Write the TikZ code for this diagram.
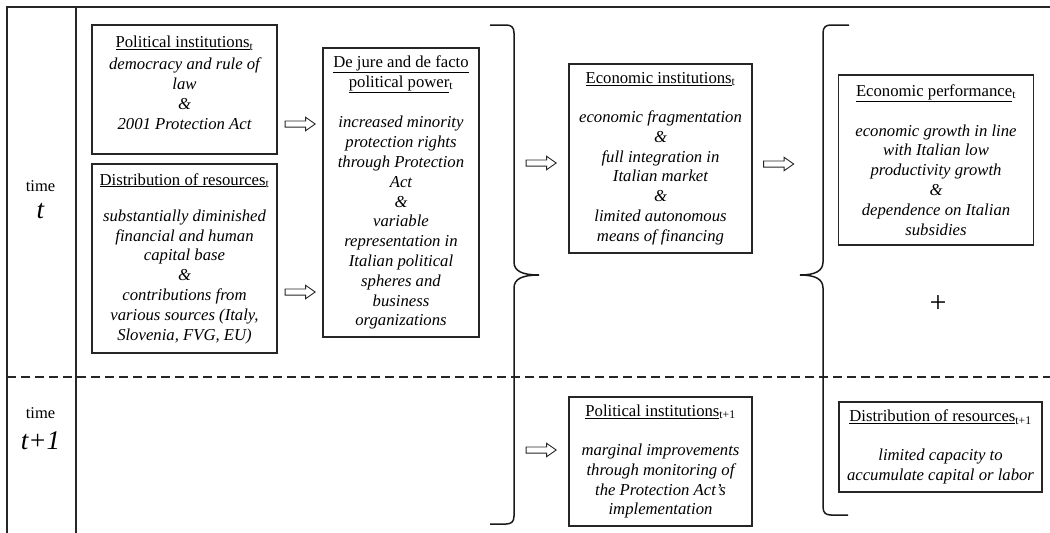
\documentclass[tikz,border=0pt]{standalone}
\usepackage{fontspec}
\setmainfont{Liberation Serif}
\usetikzlibrary{shapes.arrows}
\tikzset{
  frameline/.style={line width=1.6pt, draw=black!85},
  sepline/.style={line width=1.5pt, draw=black!85, dash pattern=on 9pt off 5pt},
  bracepath/.style={line width=1.5pt, draw=black!90},
  box/.style={draw=black!85, line width=1.1pt, inner sep=0pt, align=center,
    font=\fontsize{16.7}{19.8}\selectfont\itshape},
  harrow/.style={single arrow, draw=black!85, fill=white, line width=0.9pt,
    minimum height=30pt, inner sep=2.6pt, single arrow head extend=3.6pt,
    single arrow tip angle=70, anchor=center},
  timelab/.style={font=\fontsize{16.5}{16.5}\selectfont},
  timevar/.style={font=\fontsize{27}{27}\selectfont\itshape},
}
\newcommand{\ttl}[1]{{\upshape\underline{#1}}}
\newcommand{\sbt}[1]{{\upshape\textsubscript{#1}}}
\begin{document}
\begin{tikzpicture}[x=1pt,y=-1pt]
\useasboundingbox (0,0) rectangle (1050,533);
% frame
\coordinate (fbl) at (7,533);
\coordinate (ftl) at (7,7);
\coordinate (ftr) at (1050,7);
\coordinate (ct) at (76,7);
\coordinate (cb) at (76,533);
\coordinate (dl) at (7,377);
\coordinate (dr) at (1050,377);
\draw[frameline] (fbl) -- (ftl) -- (ftr);
\draw[frameline] (ct) -- (cb);
\draw[sepline] (dl) -- (dr);

% time labels
\node[timelab] (time1) at (40.5,186) {time};
\node[timevar] (tvar1) at (40.5,211) {t};
\node[timelab] (time2) at (40.5,413) {time};
\node[timevar] (tvar2) at (40.5,441) {t+1};

% boxes
\node[box, minimum width=185pt, minimum height=129pt] (pit) at (184.5,89.5)
 {\ttl{Political institutions}\sbt{t}\\[2.5pt]
  democracy and rule of\\ law\\ \&\\ 2001 Protection Act\\[-6pt]\mbox{}};
\node[box, minimum width=185pt, minimum height=189pt] (drt) at (184.5,258.5)
 {\ttl{Distribution of resources}\sbt{t}\\[16.5pt]
  substantially diminished\\ financial and human\\ capital base\\ \&\\
  contributions from\\ various sources (Italy,\\ Slovenia, FVG, EU)};
\node[box, minimum width=156pt, minimum height=289pt] (dj) at (401,192.5)
 {\ttl{De jure and de facto}\\ \ttl{political power}\sbt{t}\\[21pt]
  increased minority\\ protection rights\\ through Protection\\ Act\\ \&\\
  variable\\ representation in\\ Italian political\\ spheres and\\ business\\
  organizations};
\node[box, minimum width=183pt, minimum height=189pt] (ei) at (660.5,158.5)
 {\ttl{Economic institutions}\sbt{t}\\[19.5pt]
  economic fragmentation\\ \&\\ full integration in\\ Italian market\\ \&\\
  limited autonomous\\ means of financing};
\node[box, minimum width=195pt, minimum height=170pt] (ep) at (936,160)
 {\ttl{Economic performance}\sbt{t}\\[20pt]
  economic growth in line\\ with Italian low\\ productivity growth\\ \&\\
  dependence on Italian\\ subsidies};
\node[box, minimum width=183pt, minimum height=129pt] (pit1) at (660.5,461.5)
 {\ttl{Political institutions}\sbt{t+1}\\[19.5pt]
  marginal improvements\\ through monitoring of\\ the Protection Act's\\
  implementation};
\node[box, minimum width=203pt, minimum height=90pt] (drt1) at (940.5,447)
 {\ttl{Distribution of resources}\sbt{t+1}\\[19pt]
  limited capacity to\\ accumulate capital or labor};

\node[font=\fontsize{30}{30}\selectfont] (plus) at (938,304) {+};

% hollow arrows
\node[harrow] (a1) at (298,124) {};
\node[harrow] (a2) at (298,292) {};
\node[harrow] (a3) at (539,163) {};
\node[harrow] (a4) at (776.5,164) {};
\node[harrow] (a5) at (539,450) {};

% braces
\coordinate (b1t) at (490,25);
\coordinate (b1tip) at (539,275);
\coordinate (b1b) at (490,524);
\draw[bracepath] (b1t) -- (506,25) .. controls (511,25) and (514,27) .. (514,33)
  -- (514,262) .. controls (514,271) and (522,275) .. (b1tip)
  .. controls (522,275) and (514,279) .. (514,288)
  -- (514,516) .. controls (514,522) and (511,524) .. (506,524) -- (b1b);
\coordinate (b2t) at (849,25);
\coordinate (b2tip) at (800,275);
\coordinate (b2b) at (848,515);
\draw[bracepath] (b2t) -- (831,25) .. controls (826,25) and (823,27) .. (823,33)
  -- (823,262) .. controls (823,271) and (815,275) .. (b2tip)
  .. controls (815,275) and (823,279) .. (823,288)
  -- (823,507) .. controls (823,513) and (826,515) .. (831,515) -- (b2b);
\end{tikzpicture}
\end{document}
